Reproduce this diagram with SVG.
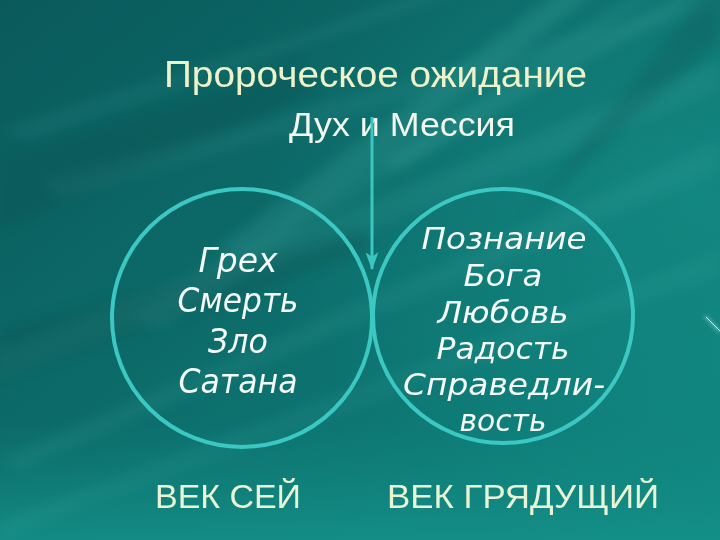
<svg xmlns="http://www.w3.org/2000/svg" width="720" height="540" viewBox="0 0 720 540">
  <defs>
    <linearGradient id="bg" x1="0" y1="0" x2="1" y2="1">
      <stop offset="0" stop-color="#0a5a5b"/>
      <stop offset="0.45" stop-color="#0c6c6a"/>
      <stop offset="1" stop-color="#108882"/>
    </linearGradient>
    <radialGradient id="glow" cx="0.95" cy="0.35" r="0.6">
      <stop offset="0" stop-color="#1a9a92" stop-opacity="0.45"/>
      <stop offset="1" stop-color="#1a9a92" stop-opacity="0"/>
    </radialGradient>
    <linearGradient id="bottom" x1="0" y1="0" x2="0" y2="1">
      <stop offset="0" stop-color="#13877f" stop-opacity="0"/>
      <stop offset="1" stop-color="#15918a" stop-opacity="0.8"/>
    </linearGradient>
    <filter id="blur" x="-20%" y="-20%" width="140%" height="140%">
      <feGaussianBlur stdDeviation="6"/>
    </filter>
    <filter id="blur2" x="-20%" y="-20%" width="140%" height="140%">
      <feGaussianBlur stdDeviation="2"/>
    </filter>
    <marker id="arrow" viewBox="0 0 18 13" refX="17" refY="6.5" markerWidth="18" markerHeight="13" markerUnits="userSpaceOnUse" orient="auto">
      <path d="M0,0 L18,6.5 L0,13 L5,6.5 Z" fill="#3cc6c0"/>
    </marker>
    <style>
      .ring { fill: none; stroke: #3cc8c2; stroke-width: 4; }
      .conn { stroke: #3cc6c0; stroke-width: 3; fill: none; }
      .head { font-family: "Liberation Sans", Arial, sans-serif; fill: #eef2c8; }
      .sub { font-family: "Liberation Sans", Arial, sans-serif; fill: #f2f8ee; }
      .item { font-family: "DejaVu Sans", Verdana, sans-serif; font-style: italic; fill: #f4fbf8; text-anchor: middle; }
      .age { font-family: "Liberation Sans", Arial, sans-serif; fill: #e9f4d4; }
      .streak { fill: #7fe0d6; filter: url(#blur); }
    </style>
  </defs>

  <!-- background -->
  <rect width="720" height="540" fill="url(#bg)"/>
  <rect width="720" height="540" fill="url(#glow)"/>
  <rect y="420" width="720" height="120" fill="url(#bottom)"/>
  <g opacity="0.22">
    <polygon class="streak" points="560,-10 600,-10 250,260 215,250" opacity="0.5"/>
    <polygon class="streak" points="640,-10 665,-10 160,330 130,320" opacity="0.35"/>
    <polygon class="streak" points="700,0 720,10 60,200 40,180" opacity="0.3"/>
    <polygon class="streak" points="720,60 720,90 0,380 0,350" opacity="0.35"/>
    <polygon class="streak" points="720,140 720,170 20,470 0,460" opacity="0.3"/>
    <polygon class="streak" points="690,-10 710,-10 400,170 380,160" opacity="0.5"/>
    <polygon class="streak" points="720,250 720,275 0,540 0,520" opacity="0.25"/>
    <polygon class="streak" points="430,-10 470,-10 30,140 0,130" opacity="0.3"/>
  </g>
  <g opacity="0.25">
    <polygon points="700,0 720,0 720,40 520,220" fill="#0a4f50" filter="url(#blur)"/>
    <polygon points="0,160 300,70 320,90 0,230" fill="#0a4f50" filter="url(#blur)"/>
    <polygon points="0,330 360,230 370,250 0,380" fill="#0a4f50" filter="url(#blur)"/>
  </g>
  <line x1="705" y1="316" x2="720" y2="332" stroke="#bfeae6" stroke-width="1.5" filter="url(#blur2)" opacity="0.9"/>
  <line x1="706" y1="317" x2="720" y2="331" stroke="#d8f5f2" stroke-width="1"/>

  <!-- titles -->
  <g id="title">
    <text class="head" x="164" y="87" font-size="37" textLength="423" lengthAdjust="spacingAndGlyphs">Пророческое ожидание</text>
  </g>
  <g id="source">
    <text class="sub" x="289" y="136" font-size="33" textLength="226" lengthAdjust="spacingAndGlyphs">Дух и Мессия</text>
  </g>

  <!-- connectors -->
  <g id="connectors">
    <line class="conn" x1="372" y1="117" x2="372" y2="269" marker-end="url(#arrow)"/>
  </g>

  <!-- this age -->
  <g id="this-age">
    <ellipse class="ring" cx="242" cy="318" rx="130" ry="129"/>
    <text class="item" font-size="33" x="238" y="272" textLength="79" lengthAdjust="spacingAndGlyphs">Грех</text>
    <text class="item" font-size="33" x="238" y="312" textLength="121" lengthAdjust="spacingAndGlyphs">Смерть</text>
    <text class="item" font-size="33" x="238" y="353" textLength="60" lengthAdjust="spacingAndGlyphs">Зло</text>
    <text class="item" font-size="33" x="238" y="393" textLength="119" lengthAdjust="spacingAndGlyphs">Сатана</text>
  </g>

  <!-- age to come -->
  <g id="age-to-come">
    <ellipse class="ring" cx="503" cy="316" rx="130" ry="127"/>
    <text class="item" font-size="31" x="504" y="249" textLength="165" lengthAdjust="spacingAndGlyphs">Познание</text>
    <text class="item" font-size="31" x="503" y="286" textLength="79" lengthAdjust="spacingAndGlyphs">Бога</text>
    <text class="item" font-size="31" x="503" y="323" textLength="131" lengthAdjust="spacingAndGlyphs">Любовь</text>
    <text class="item" font-size="31" x="503" y="359" textLength="133" lengthAdjust="spacingAndGlyphs">Радость</text>
    <text class="item" font-size="31" x="504" y="395" textLength="202" lengthAdjust="spacingAndGlyphs">Справедли-</text>
    <text class="item" font-size="31" x="503" y="431" textLength="87" lengthAdjust="spacingAndGlyphs">вость</text>
  </g>

  <!-- labels -->
  <g id="label-this-age">
    <text class="age" x="155" y="508" font-size="34" textLength="146" lengthAdjust="spacingAndGlyphs">ВЕК СЕЙ</text>
  </g>
  <g id="label-age-to-come">
    <text class="age" x="387" y="508" font-size="34" textLength="272" lengthAdjust="spacingAndGlyphs">ВЕК ГРЯДУЩИЙ</text>
  </g>
</svg>
